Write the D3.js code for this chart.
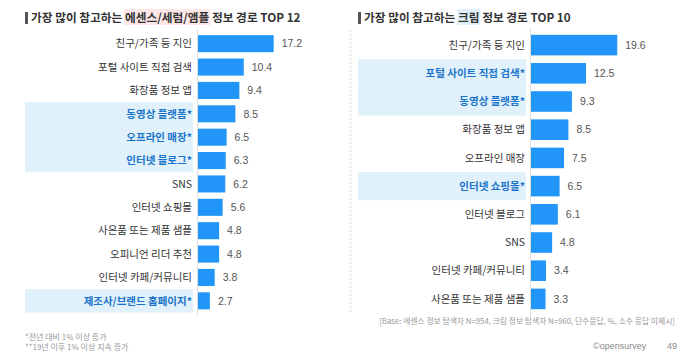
<!DOCTYPE html>
<html><head><meta charset="utf-8">
<script src="https://cdn.jsdelivr.net/npm/d3@7"></script>
<style>
body{margin:0;background:#fff;}
svg{display:block;font-family:"Noto Sans CJK KR","Noto Sans",sans-serif;}
</style></head>
<body><svg id="c" width="700" height="360"></svg>
<script>
// ---- data ----
const leftCategories = ["친구/가족 등 지인","포털 사이트 직접 검색","화장품 정보 앱","동영상 플랫폼*","오프라인 매장*","인터넷 블로그*","SNS","인터넷 쇼핑몰","사은품 또는 제품 샘플","오피니언 리더 추천","인터넷 카페/커뮤니티","제조사/브랜드 홈페이지*"];
const leftValues = [17.2,10.4,9.4,8.5,6.5,6.3,6.2,5.6,4.8,4.8,3.8,2.7];
const leftHighlight = [false,false,false,true,true,true,false,false,false,false,false,true];
const rightCategories = ["친구/가족 등 지인","포털 사이트 직접 검색*","동영상 플랫폼*","화장품 정보 앱","오프라인 매장","인터넷 쇼핑몰*","인터넷 블로그","SNS","인터넷 카페/커뮤니티","사은품 또는 제품 샘플"];
const rightValues = [19.6,12.5,9.3,8.5,7.5,6.5,6.1,4.8,3.4,3.3];
const rightHighlight = [false,true,true,false,false,true,false,false,false,false];

const svg = d3.select("#c");
const barColor = "#2196f8";
const hlBg = "#e1f1fb";
const hlText = "#1a74c9";

function drawTitle(x, y, pre, hl, post, hlColor){
  svg.append("rect").attr("x",x).attr("y",y-10).attr("width",3).attr("height",12).attr("fill","#555");
  const t = svg.append("text").attr("x",x+6).attr("y",y).attr("font-size",11.7).attr("font-weight","bold").attr("fill","#333");
  t.append("tspan").text(pre);
  const s2 = t.append("tspan").text(hl);
  t.append("tspan").text(post);
  const bb = s2.node().getBBox();
  svg.insert("rect","text").attr("x",bb.x-1).attr("y",bb.y+1).attr("width",bb.width+2).attr("height",bb.height-1).attr("fill",hlColor);
}

function drawChart(cfg){
  const y = d3.scaleBand().domain(cfg.cats).range([cfg.top,cfg.bottom]).paddingInner(cfg.pad).paddingOuter(cfg.pad/2);
  const x = d3.scaleLinear().domain([0,20]).range([cfg.axisX, cfg.axisX+88]);
  const step = y.step();
  cfg.cats.forEach((c,i)=>{
    if(cfg.hl[i]){
      svg.append("rect").attr("x",cfg.hlX0).attr("width",cfg.hlX1-cfg.hlX0)
        .attr("y",y(c)+y.bandwidth()/2-step/2).attr("height",step).attr("fill",hlBg);
    }
  });
  svg.append("line").attr("x1",cfg.axisX-0.5).attr("x2",cfg.axisX-0.5).attr("y1",cfg.top-3).attr("y2",cfg.bottom+3).attr("stroke","#ddd").attr("stroke-width",1);
  const g = svg.append("g");
  g.selectAll("rect.bar").data(cfg.vals).join("rect").attr("class","bar")
    .attr("x",x(0)).attr("y",(d,i)=>y(cfg.cats[i])).attr("height",y.bandwidth())
    .attr("width",d=>x(d)-x(0)).attr("fill",barColor);
  g.selectAll("text.val").data(cfg.vals).join("text").attr("class","val")
    .attr("x",d=>x(d)+8).attr("y",(d,i)=>y(cfg.cats[i])+y.bandwidth()/2).attr("dy","0.36em")
    .attr("font-size",10.5).attr("fill","#555").attr("font-family","Liberation Sans, Arial, sans-serif").text(d=>d.toFixed(1));
  g.selectAll("text.cat").data(cfg.cats).join("text").attr("class","cat")
    .attr("x",cfg.labelX).attr("y",d=>y(d)+y.bandwidth()/2).attr("dy","0.36em")
    .attr("text-anchor","end").attr("font-size",10.5)
    .attr("font-weight",(d,i)=>cfg.hl[i]?"bold":"normal")
    .attr("fill",(d,i)=>cfg.hl[i]?hlText:"#333").text(d=>d);
}

drawTitle(25,22,"가장 많이 참고하는 ","에센스/세럼/앰플"," 정보 경로 TOP 12","#fde6e6");
drawTitle(358,22,"가장 많이 참고하는 ","크림"," 정보 경로 TOP 10","#e1f1fb");

drawChart({cats:leftCategories, vals:leftValues, hl:leftHighlight, top:32, bottom:312.5, pad:0.27, axisX:198, labelX:192, hlX0:25, hlX1:193});
drawChart({cats:rightCategories, vals:rightValues, hl:rightHighlight, top:31, bottom:313, pad:0.27, axisX:531, labelX:525, hlX0:358, hlX1:526});

svg.append("line").attr("x1",350.5).attr("x2",350.5).attr("y1",30).attr("y2",312).attr("stroke","#e4e4e4").attr("stroke-width",1.5).attr("stroke-dasharray","2,2");

const fn = svg.append("g").attr("font-size",8).attr("fill","#999");
fn.append("text").attr("x",25).attr("y",340).text("*전년 대비 1% 이상 증가");
fn.append("text").attr("x",25).attr("y",350).text("**19년 이후 1% 이상 지속 증가");
fn.append("text").attr("x",675).attr("y",324).attr("text-anchor","end").attr("font-size",7.8).text("[Base: 에센스 정보 탐색자 N=954, 크림 정보 탐색자 N=960, 단수응답, %, 소수 응답 미제시]");
svg.append("text").attr("x",593).attr("y",349).attr("font-size",9).attr("fill","#888").attr("font-family","Liberation Sans, Arial, sans-serif").text("©opensurvey");
svg.append("text").attr("x",667).attr("y",349).attr("font-size",9).attr("fill","#888").attr("font-family","Liberation Sans, Arial, sans-serif").text("49");
</script></body></html>
